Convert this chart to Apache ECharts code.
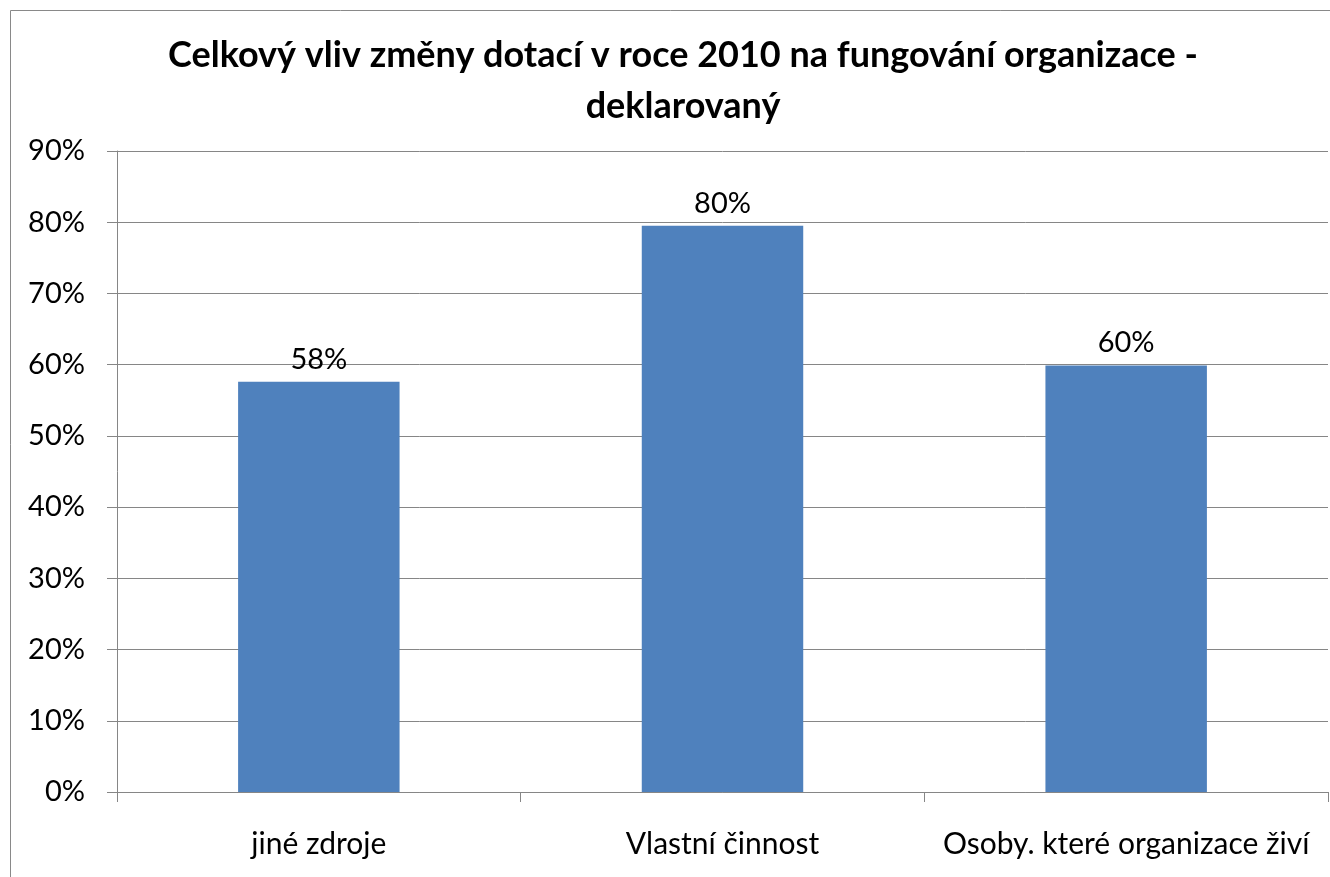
<!DOCTYPE html>
<html><head><meta charset="utf-8">
<script src="https://cdn.jsdelivr.net/npm/echarts@6/dist/echarts.min.js"></script>
<style>html,body{margin:0;padding:0;background:#fff}#c{width:1330px;height:877px}</style>
</head><body><div id="c"></div>
<script>
const categories = ['jiné zdroje', 'Vlastní činnost', 'Osoby. které organizace živí'];
const values = [57.6, 79.5, 59.9];
const yTicks = [0, 10, 20, 30, 40, 50, 60, 70, 80, 90];
const titleText = 'Celkový vliv změny dotací v roce 2010 na fungování organizace -\ndeklarovaný';

const chart = echarts.init(document.getElementById('c'));
const FONT = 'Lato';
chart.setOption({
  animation: false,
  graphic: [{
    type: 'rect', shape: {x: 10.5, y: 10.5, width: 1400, height: 1000},
    style: {fill: 'none', stroke: '#898989', lineWidth: 1}, silent: true
  }],
  title: {
    text: titleText, left: 678, top: 25, textAlign: 'center',
    textStyle: {fontFamily: FONT, fontWeight: 'bold', fontSize: 36, color: '#000', lineHeight: 51}
  },
  grid: {left: 117, right: 2, top: 151, bottom: 85, containLabel: false},
  xAxis: {
    type: 'category', data: categories,
    axisLine: {lineStyle: {color: '#868686', width: 1}},
    axisTick: {show: true, length: 10, lineStyle: {color: '#868686'}, alignWithLabel: false},
    axisLabel: {fontFamily: FONT, fontSize: 30, color: '#000', margin: 37, interval: 0}
  },
  yAxis: {
    type: 'value', min: 0, max: 90, interval: 10,
    axisLine: {show: true, lineStyle: {color: '#868686', width: 1}},
    axisTick: {show: true, length: 10, lineStyle: {color: '#868686'}},
    splitLine: {lineStyle: {color: '#868686', width: 1}},
    axisLabel: {fontFamily: FONT, fontSize: 29, color: '#000', margin: 32,
      formatter: v => yTicks.includes(v) ? v + '%' : ''}
  },
  series: [{
    type: 'bar', data: values, barWidth: '40%',
    itemStyle: {color: '#4F81BD'},
    label: {show: true, position: 'top', distance: 8, fontFamily: FONT, fontSize: 29, color: '#000',
      formatter: p => Math.round(p.value) + '%'}
  }]
});
</script></body></html>
